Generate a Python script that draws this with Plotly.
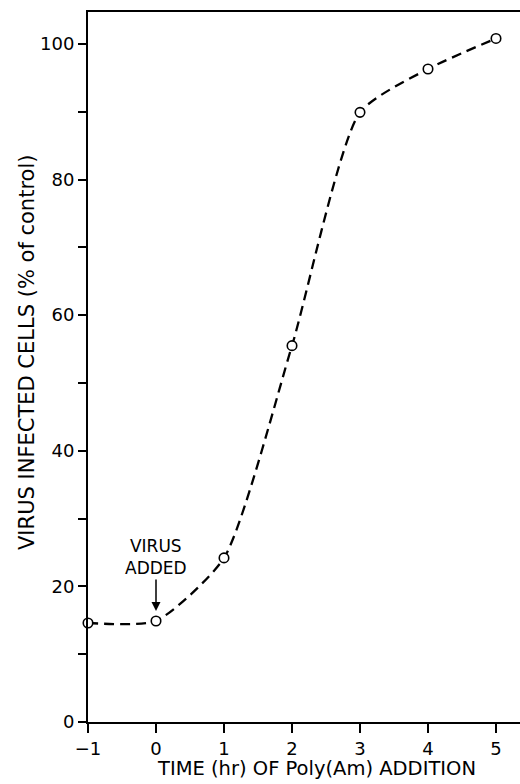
import plotly.graph_objects as go

# Time of Poly(Am) addition relative to virus addition (hours)
time_hr = [-1, 0, 1, 2, 3, 4, 5]
# Virus infected cells, percent of control
infected_pct = [14.6, 14.9, 24.2, 55.5, 89.9, 96.3, 100.8]

x_ticks = [-1, 0, 1, 2, 3, 4, 5]
x_tick_text = ["\u22121", "0", "1", "2", "3", "4", "5"]
# every 10 % gets a tick, every 20 % gets a label
y_ticks = [0, 10, 20, 30, 40, 50, 60, 70, 80, 90, 100]
y_tick_text = ["0", "", "20", "", "40", "", "60", "", "80", "", "100"]

FONT = "DejaVu Sans, Liberation Sans, Arial, sans-serif"

fig = go.Figure()

fig.add_trace(go.Scatter(
    x=time_hr,
    y=infected_pct,
    mode="lines+markers",
    line=dict(color="black", width=2.3, dash="10px,6px", shape="spline", smoothing=0.6),
    marker=dict(symbol="circle", size=9.5, color="white",
                line=dict(color="black", width=1.6)),
    cliponaxis=False,
    showlegend=False,
))

fig.add_annotation(
    x=0, y=infected_pct[1],
    xref="x", yref="y",
    text="VIRUS<br>ADDED",
    showarrow=True,
    arrowhead=2, arrowsize=1.2, arrowwidth=1.5, arrowcolor="black",
    ax=0, ay=-64, standoff=10,
    font=dict(family=FONT, size=17, color="black"),
)

# axis titles
fig.add_annotation(
    x=0.530, y=0, xref="paper", yref="paper",
    xanchor="center", yanchor="bottom", yshift=-60,
    text="TIME (hr) OF Poly(Am) ADDITION",
    showarrow=False,
    font=dict(family=FONT, size=19.5, color="black"),
)
fig.add_annotation(
    x=0, y=0.5197, xref="paper", yref="paper",
    xanchor="center", yanchor="middle", xshift=-61,
    text="VIRUS INFECTED CELLS (% of control)",
    textangle=-90,
    showarrow=False,
    font=dict(family=FONT, size=21, color="black"),
)

fig.update_layout(
    width=520, height=784,
    margin=dict(l=88, r=0, t=12, b=62),
    paper_bgcolor="white", plot_bgcolor="white",
    font=dict(family=FONT, color="black"),
)

fig.update_xaxes(
    range=[-1, 5.353],
    tickvals=x_ticks,
    ticktext=x_tick_text,
    ticks="outside", ticklen=9, tickwidth=1.5, tickcolor="black",
    showline=True, linecolor="black", linewidth=2, mirror=True,
    showgrid=False, zeroline=False,
    tickfont=dict(family=FONT, size=18),
)

fig.update_yaxes(
    range=[0, 104.7],
    tickvals=y_ticks,
    ticktext=y_tick_text,
    ticks="outside", ticklen=8, tickwidth=1.5, tickcolor="black",
    showline=True, linecolor="black", linewidth=2, mirror=False,
    showgrid=False, zeroline=False,
    tickfont=dict(family=FONT, size=18),
)

fig.write_html("out.html")
